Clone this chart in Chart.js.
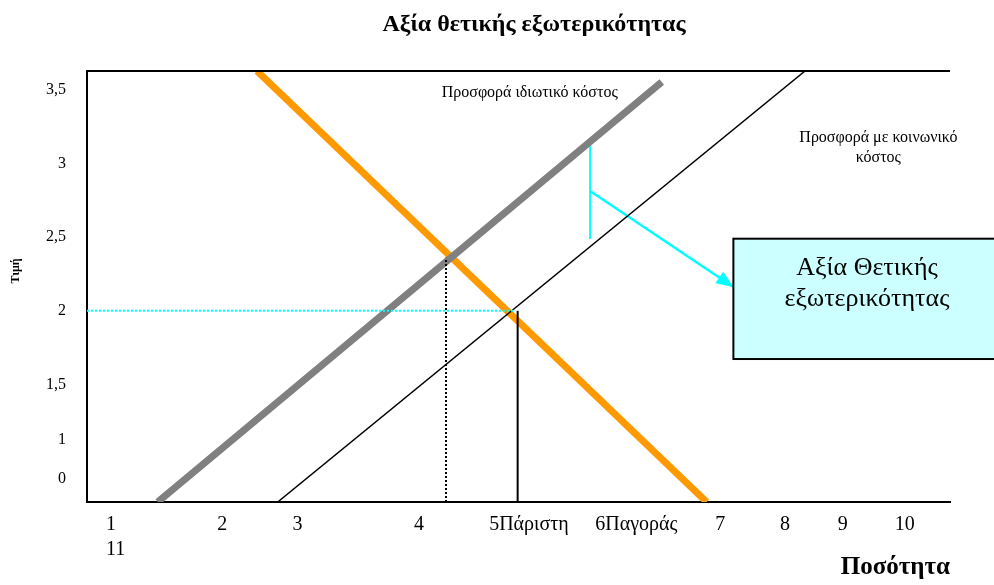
<!DOCTYPE html>
<html><head><meta charset="utf-8">
<script src="https://cdn.jsdelivr.net/npm/chart.js@4.4.1/dist/chart.umd.min.js"></script>
<style>html,body{margin:0;padding:0;background:#fff}#wrap{width:994px;height:585px;position:relative}</style>
</head><body><div id="wrap"><canvas id="c"></canvas></div>
<script>
const titleText = 'Αξία θετικής εξωτερικότητας';
const yTitleText = 'Τιμή';
const xTitleText = 'Ποσότητα';
const privateLabel = 'Προσφορά ιδιωτικό κόστος';
const socialLabel = ['Προσφορά με κοινωνικό', 'κόστος'];
const boxLabel = ['Αξία Θετικής', 'εξωτερικότητας'];

const xTickValues = [0.22, 1.51, 2.38, 3.79, 4.66, 5.89, 7.28, 8.03, 8.70, 9.36];
const xTickLabels = [['1', '11'], '2', '3', '4', '5Πάριστη', '6Παγοράς', '7', '8', '9', '10'];
const yTickValues = [0.86, 1.12, 1.5, 2, 2.5, 3, 3.5];
const yTickLabels = ['0', '1', '1,5', '2', '2,5', '3', '3,5'];

const privateSupply = [{x: 0.82, y: 0.70}, {x: 6.66, y: 3.555}];
const socialSupply = [{x: 2.21, y: 0.70}, {x: 8.32, y: 3.63}];
const demand = [{x: 1.97, y: 3.63}, {x: 7.18, y: 0.70}];
const marketQtyLine = [{x: 4.16, y: 0.70}, {x: 4.16, y: 2.36}];
const optimalQtyLine = [{x: 4.99, y: 0.70}, {x: 4.99, y: 2.0}];
const priceLine = [{x: 0, y: 2.0}, {x: 4.96, y: 2.0}];
const externalityBar = [{x: 5.83, y: 3.14}, {x: 5.83, y: 2.488}];
const arrowLine = [{x: 5.83, y: 2.814}, {x: 7.49, y: 2.162}];
const boxCorners = [{x: 7.49, y: 2.49}, {x: 11.0, y: 1.672}];

const SERIF = '"Liberation Serif", "Times New Roman", serif';

const annot = {
  id: 'annot',
  beforeDraw(chart) {
    const ctx = chart.ctx;
    ctx.save(); ctx.fillStyle = '#fff'; ctx.fillRect(0, 0, chart.width, chart.height); ctx.restore();
  },
  afterDatasetsDraw(chart) {
    const {ctx, chartArea: a, scales: {x, y}} = chart;
    ctx.save();
    // top frame line
    ctx.strokeStyle = '#000'; ctx.lineWidth = 2;
    ctx.beginPath(); ctx.moveTo(a.left, a.top); ctx.lineTo(a.right, a.top); ctx.stroke();
    // title
    ctx.fillStyle = '#000'; ctx.textAlign = 'center'; ctx.textBaseline = 'middle';
    ctx.font = 'bold 24px ' + SERIF;
    ctx.fillText(titleText, 534, 25);
    // y title
    ctx.save(); ctx.translate(16, 271); ctx.rotate(-Math.PI / 2);
    ctx.font = 'bold 12px ' + SERIF; ctx.fillText(yTitleText, 0, 0); ctx.restore();
    // curve labels
    ctx.font = '16px ' + SERIF;
    ctx.fillText(privateLabel, x.getPixelForValue(5.13), y.getPixelForValue(3.48));
    ctx.fillText(socialLabel[0], x.getPixelForValue(9.17), y.getPixelForValue(3.175));
    ctx.fillText(socialLabel[1], x.getPixelForValue(9.17), y.getPixelForValue(3.04));
    // arrowhead
    const x0 = x.getPixelForValue(arrowLine[0].x), y0 = y.getPixelForValue(arrowLine[0].y);
    const x1 = x.getPixelForValue(arrowLine[1].x), y1 = y.getPixelForValue(arrowLine[1].y);
    const ang = Math.atan2(y1 - y0, x1 - x0);
    const L = 17, W = 7;
    ctx.fillStyle = '#00FFFF';
    ctx.beginPath();
    ctx.moveTo(x1, y1);
    ctx.lineTo(x1 - L * Math.cos(ang) + W * Math.sin(ang), y1 - L * Math.sin(ang) - W * Math.cos(ang));
    ctx.lineTo(x1 - L * Math.cos(ang) - W * Math.sin(ang), y1 - L * Math.sin(ang) + W * Math.cos(ang));
    ctx.closePath(); ctx.fill();
    // text box
    const bx0 = x.getPixelForValue(boxCorners[0].x), by0 = y.getPixelForValue(boxCorners[0].y);
    const bx1 = x.getPixelForValue(boxCorners[1].x), by1 = y.getPixelForValue(boxCorners[1].y);
    ctx.fillStyle = '#CCFFFF';
    ctx.fillRect(bx0, by0, bx1 - bx0, by1 - by0);
    ctx.strokeStyle = '#000'; ctx.lineWidth = 2;
    ctx.strokeRect(bx0, by0, bx1 - bx0, by1 - by0);
    ctx.fillStyle = '#000';
    ctx.font = '26px ' + SERIF;
    ctx.fillText(boxLabel[0], 867, by0 + 29);
    ctx.fillText(boxLabel[1], 867, by0 + 60);
    ctx.restore();
  }
};

const ln = (data, color, width, dash) => ({
  data, borderColor: color, backgroundColor: color, borderWidth: width,
  borderDash: dash || [], showLine: true, pointRadius: 0, fill: false, tension: 0
});

new Chart(document.getElementById('c'), {
  type: 'scatter',
  data: {
    datasets: [
      ln(priceLine, '#00FFFF', 2, [2, 2]),
      ln(marketQtyLine, '#000000', 2, [2, 2]),
      ln(optimalQtyLine, '#000000', 2),
      ln(socialSupply, '#000000', 1.5),
      ln(privateSupply, '#808080', 7),
      ln(demand, '#FF9900', 7),
      ln(externalityBar, '#00FFFF', 2),
      ln(arrowLine, '#00FFFF', 2.5)
    ]
  },
  options: {
    responsive: true, maintainAspectRatio: false, animation: false,
    layout: {padding: {top: 71, right: 44, left: 0, bottom: 0}},
    plugins: {legend: {display: false}, tooltip: {enabled: false}, title: {display: false}},
    scales: {
      x: {
        type: 'linear', min: 0, max: 10,
        grid: {display: false, drawTicks: false},
        border: {display: true, color: '#000', width: 2},
        afterBuildTicks: s => { s.ticks = xTickValues.map(v => ({value: v})); },
        afterFit: s => { s.height = 83; },
        ticks: {
          autoSkip: false, maxRotation: 0, minRotation: 0, align: 'start', padding: 10,
          color: '#000', font: {family: SERIF, size: 20, lineHeight: 1.25},
          callback: (v, i) => xTickLabels[i]
        },
        title: {display: true, text: xTitleText, align: 'end', color: '#000',
          font: {family: SERIF, size: 25, weight: 'bold', lineHeight: 1.2}, padding: {top: 0, bottom: 2}}
      },
      y: {
        type: 'linear', min: 0.7, max: 3.63,
        grid: {display: false, drawTicks: false},
        border: {display: true, color: '#000', width: 2},
        afterBuildTicks: s => { s.ticks = yTickValues.map(v => ({value: v})); },
        afterFit: s => { s.width = 87; },
        ticks: {
          autoSkip: false, padding: 21, color: '#000',
          font: {family: SERIF, size: 16},
          callback: (v, i) => yTickLabels[i]
        }
      }
    }
  },
  plugins: [annot]
});
</script>
</body></html>
